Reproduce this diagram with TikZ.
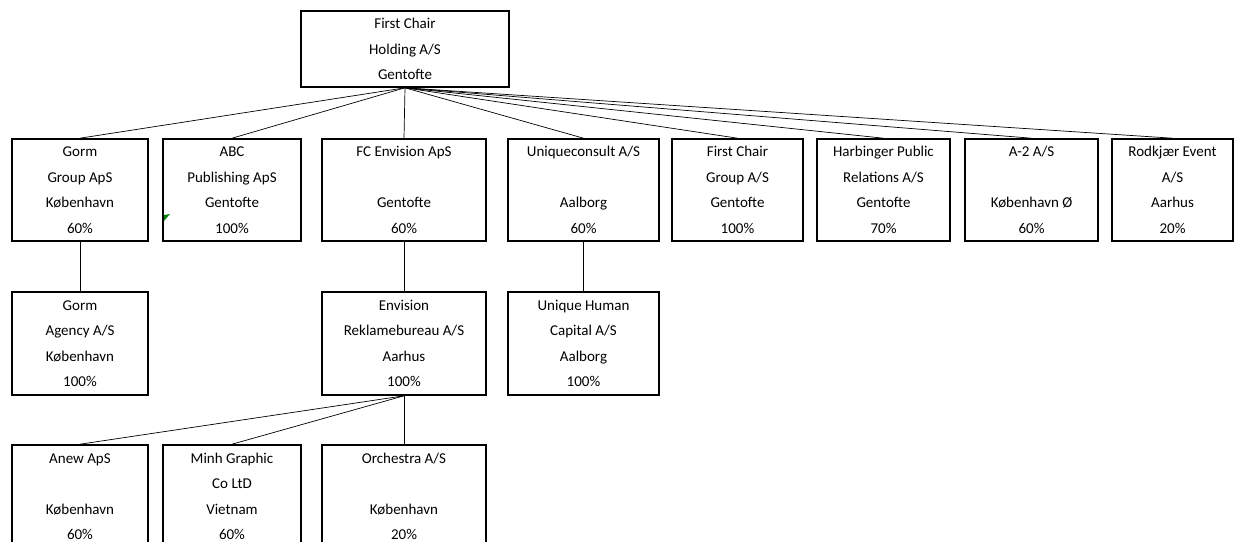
\documentclass[tikz,border=0pt]{standalone}
\usepackage{fontspec}
\setmainfont{Carlito}
\tikzset{
  company/.style={draw, line width=1.6pt, align=center, inner sep=0pt,
    execute at begin node=\rule{0pt}{17pt},
    font=\fontsize{15}{25.5}\selectfont},
  owns/.style={line width=0.7pt}
}
\begin{document}
\begin{tikzpicture}[x=1pt, y=-1pt]
\useasboundingbox (0,0) rectangle (1234,541);
% Nodes
\node[company, minimum width=208pt, minimum height=76pt] (holding) at (405,49) {First Chair\\Holding A/S\\Gentofte};

\node[company, minimum width=136pt, minimum height=102pt] (gorm) at (80,190) {Gorm\\Group ApS\\København\\60\%};
\node[company, minimum width=138pt, minimum height=102pt] (abc) at (232,190) {ABC\\Publishing ApS\\Gentofte\\100\%};
\node[company, minimum width=164pt, minimum height=102pt] (fcenv) at (404,190) {FC Envision ApS\\\mbox{}\\Gentofte\\60\%};
\node[company, minimum width=151pt, minimum height=102pt] (unique) at (583.5,190) {Uniqueconsult A/S\\\mbox{}\\Aalborg\\60\%};
\node[company, minimum width=131pt, minimum height=102pt] (fcgroup) at (737.5,190) {First Chair\\Group A/S\\Gentofte\\100\%};
\node[company, minimum width=133pt, minimum height=102pt] (harbinger) at (883.5,190) {Harbinger Public\\Relations A/S\\Gentofte\\70\%};
\node[company, minimum width=133pt, minimum height=102pt] (atwo) at (1031.5,190) {A-2 A/S\\\mbox{}\\København Ø\\60\%};
\node[company, minimum width=121pt, minimum height=102pt] (rodkjaer) at (1172.5,190) {Rodkjær Event\\A/S\\Aarhus\\20\%};

\node[company, minimum width=136pt, minimum height=103pt] (agency) at (80,343.5) {Gorm\\Agency A/S\\København\\100\%};
\node[company, minimum width=164pt, minimum height=103pt] (envision) at (404,343.5) {Envision\\Reklamebureau A/S\\Aarhus\\100\%};
\node[company, minimum width=151pt, minimum height=103pt] (human) at (583.5,343.5) {Unique Human\\Capital A/S\\Aalborg\\100\%};

\node[company, minimum width=136pt, minimum height=103pt] (anew) at (80,496.5) {Anew ApS\\\mbox{}\\København\\60\%};
\node[company, minimum width=138pt, minimum height=103pt] (minh) at (232,496.5) {Minh Graphic\\Co LtD\\Vietnam\\60\%};
\node[company, minimum width=164pt, minimum height=103pt] (orchestra) at (404,496.5) {Orchestra A/S\\\mbox{}\\København\\20\%};

% Edges
\foreach \sub in {gorm,abc,fcenv,unique,fcgroup,harbinger,atwo,rodkjaer}
  \draw[owns] (holding.south) -- (\sub.north);
\draw[owns] (gorm.south) -- (agency.north);
\draw[owns] (fcenv.south) -- (envision.north);
\draw[owns] (unique.south) -- (human.north);
\foreach \sub in {anew,minh,orchestra}
  \draw[owns] (envision.south) -- (\sub.north);

% comment marker
\fill[green!50!black] (164,215) -- (170,214) -- (164,221) -- cycle;
\end{tikzpicture}
\end{document}
